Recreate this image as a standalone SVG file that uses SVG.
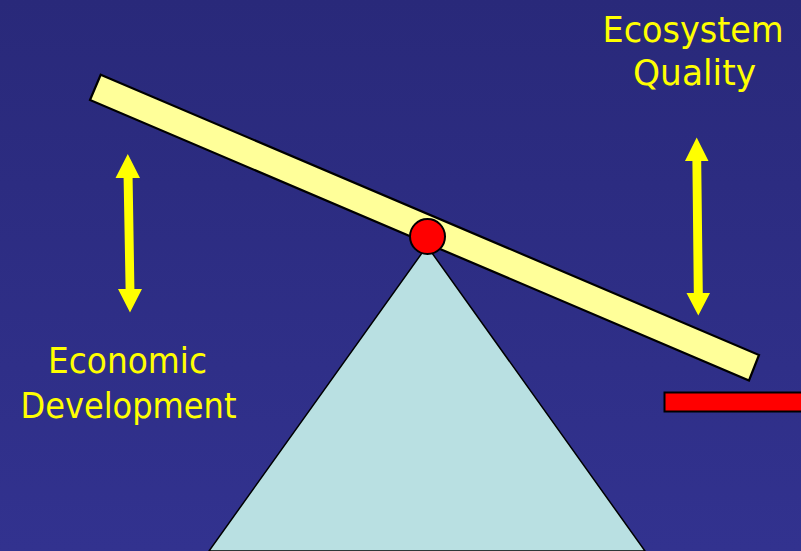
<svg xmlns="http://www.w3.org/2000/svg" width="801" height="551" viewBox="0 0 801 551">
<defs>
<linearGradient id="bg" x1="0" y1="0" x2="0" y2="1">
<stop offset="0" stop-color="#29297a"/>
<stop offset="1" stop-color="#32328f"/>
</linearGradient>
</defs>
<style>
.lbl{font-family:"DejaVu Sans","Liberation Sans",sans-serif;font-size:36px;fill:#ffff00;text-anchor:middle}
.arrow{fill:#ffff00}
</style>
<rect width="801" height="551" fill="url(#bg)"/>
<g id="fulcrum">
<polygon points="427,246 645,551 209,551" fill="#b9e0e2" stroke="#000" stroke-width="1.5"/>
</g>
<g id="beam">
<polygon points="100.7,74.7 759,355 749,380.5 90,100" fill="#ffff99" stroke="#000" stroke-width="2.2" stroke-linejoin="miter"/>
</g>
<g id="pivot">
<circle cx="427.5" cy="236.5" r="17.5" fill="#ff0000" stroke="#000" stroke-width="2"/>
</g>
<g id="bar">
<rect x="664.5" y="392.5" width="140" height="19" fill="#ff0000" stroke="#000" stroke-width="2"/>
</g>
<g id="arrows">
<polygon class="arrow" points="127.8,154 140,178 132.6,178 134.4,289 142,289 130,312.5 118,289 125.6,289 123.6,178 115.5,178"/>
<polygon class="arrow" points="696.7,137.5 708.5,161 701.2,161 702.8,293 710,293 698.3,315.5 686.5,293 693.8,293 692.4,161 685,161"/>
</g>
<g id="label-ecosystem">
<text class="lbl" x="693" y="42" textLength="181" lengthAdjust="spacingAndGlyphs">Ecosystem</text>
<text class="lbl" x="694.5" y="85" textLength="123" lengthAdjust="spacingAndGlyphs">Quality</text>
</g>
<g id="label-economic">
<text class="lbl" x="127.5" y="373" textLength="159" lengthAdjust="spacingAndGlyphs">Economic</text>
<text class="lbl" x="128.5" y="418" textLength="216" lengthAdjust="spacingAndGlyphs">Development</text>
</g>
</svg>
